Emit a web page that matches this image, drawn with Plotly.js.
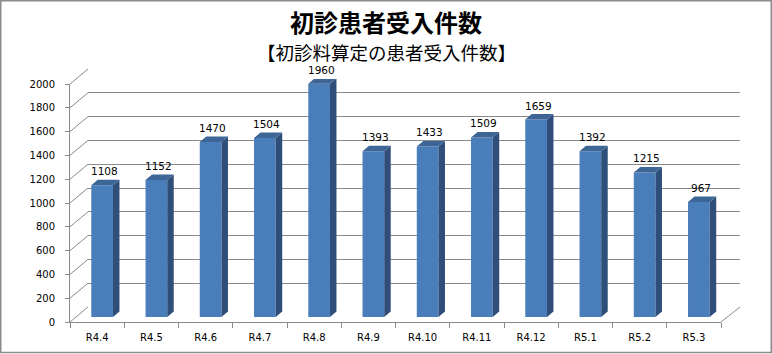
<!DOCTYPE html>
<html>
<head>
<meta charset="utf-8">
<script src="https://cdn.plot.ly/plotly-3.0.1.min.js"></script>
<style>html,body{margin:0;padding:0;background:#fff}#chart{width:772px;height:354px}</style>
</head>
<body>
<div id="chart"></div>
<script>
// ---- data ----
const categories = ['R4.4','R4.5','R4.6','R4.7','R4.8','R4.9','R4.10','R4.11','R4.12','R5.1','R5.2','R5.3'];
const counts = [1108,1152,1470,1504,1960,1393,1433,1509,1659,1392,1215,967];
const yTicks = [0,200,400,600,800,1000,1200,1400,1600,1800,2000];
const titleText = '初診患者受入件数';
const subtitleText = '【初診料算定の患者受入件数】';

// ---- geometry (pixels) ----
const W = 772, H = 354;
const front = {x0:70, x1:721, yb:322, yt:84};
const back  = {x0:88, x1:740, yb:307, yt:69};
const barP  = {x0:75, x1:726, yb:317, yt:79};
const yMax = 2000;
const px = x => x / W;
const py = y => 1 - y / H;
const dom = p => ({x:[px(p.x0), px(p.x1)], y:[py(p.yb), py(p.yt)]});
const fD = dom(front), bD = dom(back), cD = dom(barP);

const barW = 0.4;
const catPx = (barP.x1 - barP.x0) / categories.length;
const depthX = 6.5 / catPx;
const depthY = 5.5 / ((barP.yb - barP.yt) / yMax);

const idx = categories.map((c, i) => i);

// side & top faces built from the data
const sideX = [], sideY = [], topX = [], topY = [];
counts.forEach((v, i) => {
  const r = i + barW / 2, l = i - barW / 2;
  sideX.push(r, r + depthX, r + depthX, r, r, null);
  sideY.push(0, depthY, v + depthY, v, 0, null);
  topX.push(l, r, r + depthX, l + depthX, l, null);
  topY.push(v, v, v + depthY, v + depthY, v, null);
});

const gridColor = '#8a8a8a';
const tickFont = {family:'DejaVu Sans, sans-serif', size:10, color:'#000'};

const traces = [
  // front frame axes (labels)
  {type:'scatter', x:categories, y:counts, xaxis:'x', yaxis:'y', mode:'markers',
   marker:{opacity:0}, hoverinfo:'skip', showlegend:false},
  // back wall (grid)
  {type:'scatter', x:idx, y:counts, xaxis:'x2', yaxis:'y2', mode:'markers',
   marker:{opacity:0}, hoverinfo:'skip', showlegend:false},
  // bar fronts
  {type:'bar', x:idx, y:counts, xaxis:'x3', yaxis:'y3', width:barW,
   marker:{color:'#4a7ebb', line:{width:0}}, hoverinfo:'skip', showlegend:false},
  // side faces
  {type:'scatter', x:sideX, y:sideY, xaxis:'x3', yaxis:'y3', mode:'lines', fill:'toself',
   fillcolor:'#2f4f7a', line:{width:0, color:'#2f4f7a'}, hoverinfo:'skip', showlegend:false},
  // top faces
  {type:'scatter', x:topX, y:topY, xaxis:'x3', yaxis:'y3', mode:'lines', fill:'toself',
   fillcolor:'#3d6595', line:{width:0, color:'#3d6595'}, hoverinfo:'skip', showlegend:false}
];

const shapes = [];
// left wall diagonals
yTicks.forEach(v => {
  const f = v / yMax;
  shapes.push({type:'line', xref:'paper', yref:'paper',
    x0:fD.x[0], y0:fD.y[0] + f * (fD.y[1] - fD.y[0]),
    x1:bD.x[0], y1:bD.y[0] + f * (bD.y[1] - bD.y[0]),
    line:{color:gridColor, width:1}, layer:'below'});
});
// right floor edge
shapes.push({type:'line', xref:'paper', yref:'paper',
  x0:fD.x[1], y0:fD.y[0], x1:bD.x[1], y1:bD.y[0], line:{color:gridColor, width:1}, layer:'below'});
// outer frame
shapes.push({type:'rect', xref:'paper', yref:'paper',
  x0:px(0.75), y0:py(352.5), x1:px(771.25), y1:py(0.75), line:{color:'#8c8c8c', width:1.5}});

const annotations = [
  {text:subtitleText, xref:'paper', yref:'paper', x:0.5, y:py(52), xanchor:'center', yanchor:'middle',
   showarrow:false, font:{family:'Noto Sans CJK JP', size:18.5, color:'#000'}}
];
counts.forEach((v, i) => {
  annotations.push({text:String(v), xref:'x3', yref:'y3', x:i, y:v, xanchor:'center', yanchor:'bottom',
    xshift:2, yshift:6, showarrow:false, font:{family:'DejaVu Sans, sans-serif', size:10.5, color:'#000'}});
});

const layout = {
  width:W, height:H,
  margin:{l:0, r:0, t:0, b:0},
  paper_bgcolor:'#fff', plot_bgcolor:'rgba(0,0,0,0)',
  showlegend:false,
  title:{text:titleText, x:0.5, xanchor:'center', y:py(24), yanchor:'middle', yref:'container',
    font:{family:'Noto Sans CJK JP', size:24, weight:'bold', color:'#000'}},
  xaxis:{domain:fD.x, anchor:'y', type:'category', categoryarray:categories, range:[-0.5, categories.length - 0.5],
    tickson:'boundaries', ticks:'outside', ticklen:5, tickcolor:gridColor, showline:true, linecolor:gridColor,
    showgrid:false, zeroline:false, tickfont:tickFont, ticklabelstandoff:6, fixedrange:true},
  yaxis:{domain:fD.y, anchor:'x', range:[0, yMax], tickvals:yTicks, ticks:'outside', ticklen:4, tickcolor:gridColor,
    showline:true, linecolor:gridColor, showgrid:false, zeroline:false, tickfont:tickFont, ticklabelstandoff:8, fixedrange:true},
  xaxis2:{domain:bD.x, anchor:'y2', range:[-0.5, categories.length - 0.5], visible:true, showgrid:false,
    showticklabels:false, ticks:'', zeroline:false, showline:false},
  yaxis2:{domain:bD.y, anchor:'x2', range:[0, yMax], tickvals:yTicks, showgrid:true, gridcolor:gridColor, gridwidth:1,
    showticklabels:false, ticks:'', zeroline:false, showline:false},
  xaxis3:{domain:cD.x, anchor:'y3', range:[-0.5, categories.length - 0.5], showgrid:false, showticklabels:false,
    ticks:'', zeroline:false, showline:false},
  yaxis3:{domain:cD.y, anchor:'x3', range:[0, yMax], showgrid:false, showticklabels:false,
    ticks:'', zeroline:false, showline:false},
  shapes:shapes,
  annotations:annotations
};

Plotly.newPlot('chart', traces, layout, {staticPlot:true, displayModeBar:false});
</script>
</body>
</html>
